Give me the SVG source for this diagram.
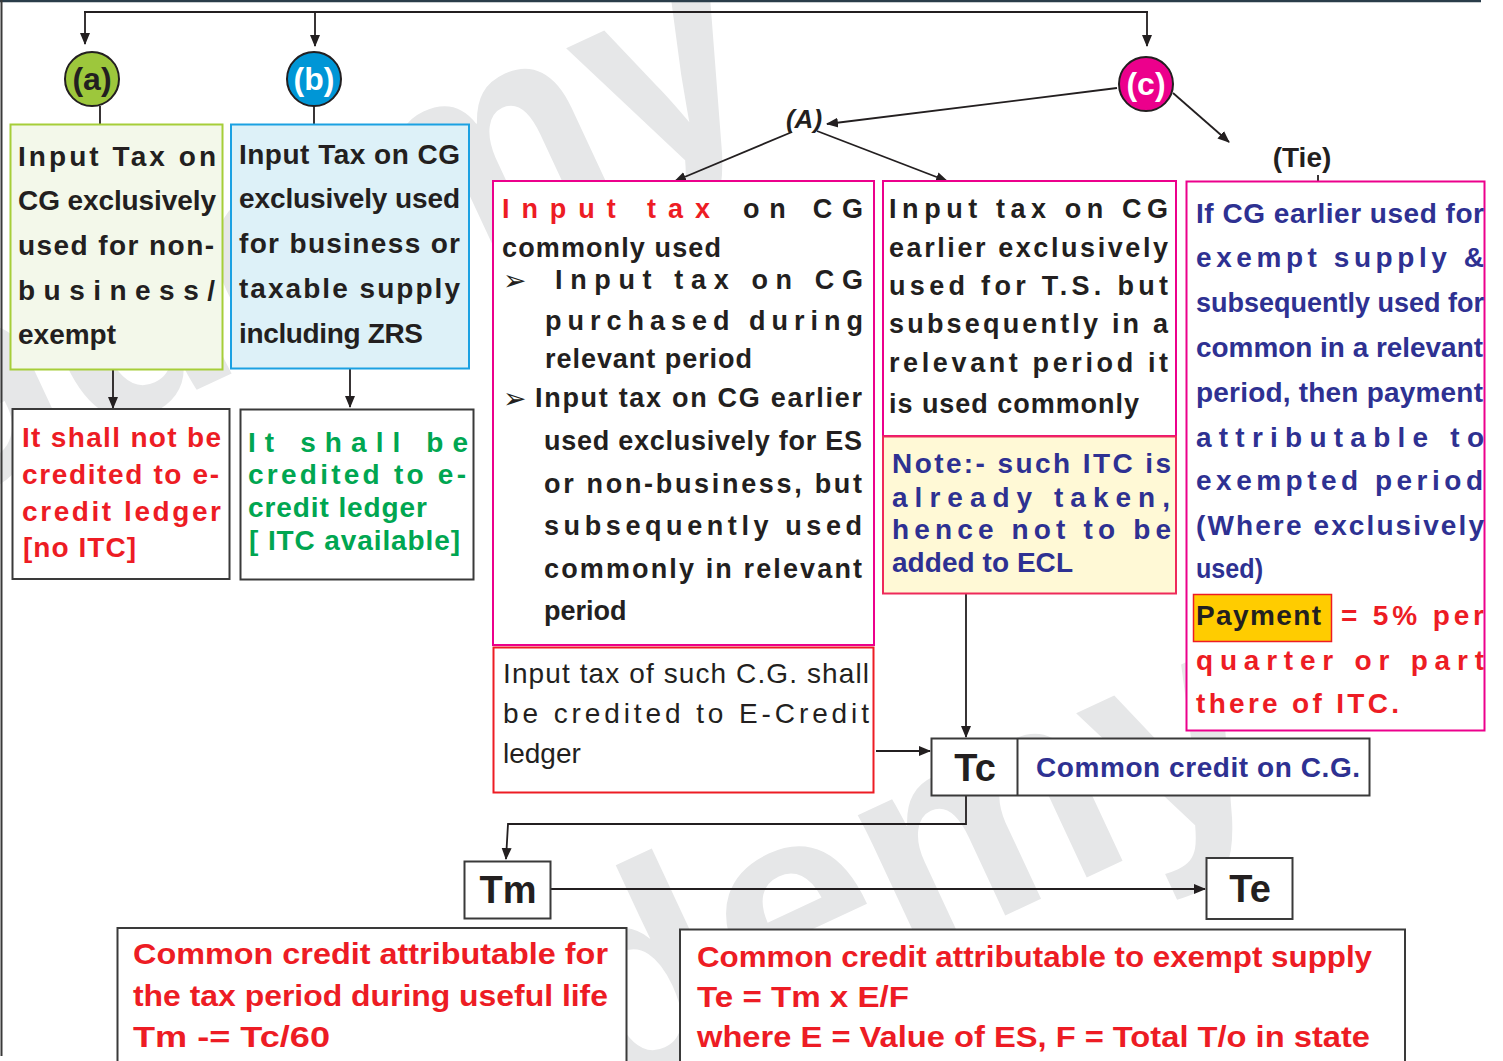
<svg xmlns="http://www.w3.org/2000/svg" width="1503" height="1061" viewBox="0 0 1503 1061">
<defs>
<marker id="ah" markerWidth="12" markerHeight="12" refX="11" refY="6" orient="auto" markerUnits="userSpaceOnUse"><path d="M0,1 L12,6 L0,11 z" fill="#231f20"/></marker>
<style>
.t{font-family:"Liberation Sans",Arial,sans-serif;font-weight:bold;font-size:28px}
.m{font-size:27px}
.rg{font-weight:normal}
.b{font-size:30px}
.big{font-size:38px}
.circ{font-size:32px}
.bul{font-family:"DejaVu Sans",sans-serif;font-size:28px;fill:#231f20}
.k{fill:#231f20}.r{fill:#ed1c24}.g{fill:#00a651}.n{fill:#2e3192}.w{fill:#ffffff}
.box{fill:#ffffff;stroke:#3a3a3a;stroke-width:2}
.pk{fill:#ffffff;stroke:#ec008c;stroke-width:2}
.rd{fill:#ffffff;stroke:#ed1c24;stroke-width:2}
.ln{fill:none;stroke:#231f20;stroke-width:1.8}
.arr{fill:none;stroke:#231f20;stroke-width:1.8;marker-end:url(#ah)}
.wm{font-family:"Liberation Sans",Arial,sans-serif;font-weight:bold;font-size:290px;fill:#e6e7e8}
</style>
</defs>
<rect width="1503" height="1061" fill="#ffffff"/>
<g id="watermark">
<text class="wm" x="775" y="120" text-anchor="end" transform="rotate(-25 775 120)">academy</text>
<text class="wm" x="1285" y="785" text-anchor="end" transform="rotate(-25 1285 785)">academy</text>
</g>
<g id="frame">
<line x1="0" y1="1" x2="1481" y2="1" stroke="#2a3d4a" stroke-width="2.5"/>
<line x1="1.5" y1="0" x2="1.5" y2="1056" stroke="#3a3a3a" stroke-width="2"/>
</g>
<g id="connectors">
<path class="ln" d="M84,12 H1148" stroke-width="2.5"/>
<path class="arr" d="M85,12 V44" stroke-width="2.5"/>
<path class="arr" d="M315,12 V46" stroke-width="2.5"/>
<path class="arr" d="M1147,12 V46" stroke-width="2.5"/>
<path class="ln" d="M100,106 V124"/>
<path class="ln" d="M314,106 V124"/>
<path class="arr" d="M113,369 V408"/>
<path class="arr" d="M350,368 V407"/>
<path class="arr" d="M1117,88 L827,124"/>
<path class="arr" d="M792,132 L675,181"/>
<path class="arr" d="M817,131 L947,181"/>
<path class="arr" d="M1173,93 L1229,142"/>
<path class="ln" d="M1318,175 V195"/>
<path class="arr" d="M876,751 H930"/>
<path class="arr" d="M966,594 V737"/>
<path class="arr" d="M966,796 V824 H508 L506,859"/>
<path class="arr" d="M550,889 H1205" stroke="#555555" stroke-width="2.5"/>
</g>
<g id="node-a">
<circle cx="92" cy="79" r="27" fill="#9dc73c" stroke="#231f20" stroke-width="2"/>
<text class="t circ k" x="92" y="90" text-anchor="middle">(a)</text>
</g>
<g id="node-b">
<circle cx="314" cy="79" r="27" fill="#0096d6" stroke="#231f20" stroke-width="2"/>
<text class="t circ w" x="314" y="90" text-anchor="middle">(b)</text>
</g>
<g id="node-c">
<circle cx="1146" cy="84" r="27" fill="#ec008c" stroke="#231f20" stroke-width="2"/>
<text class="t circ w" x="1146" y="95" text-anchor="middle">(c)</text>
</g>
<g id="label-A">
<text class="t k" x="804" y="128" style="font-size:26px;font-style:italic" text-anchor="middle">(A)</text>
</g>
<g id="label-Tie">
<text class="t k" x="1302" y="167" text-anchor="middle">(Tie)</text>
</g>
<g id="box-a">
<rect x="10.5" y="124.5" width="212" height="245" fill="#f3f8ea" stroke="#a6ce39" stroke-width="2"/>
<text class="t k" x="18" y="166" textLength="198">Input Tax on</text>
<text class="t k" x="18" y="210" textLength="198">CG exclusively</text>
<text class="t k" x="18" y="255" textLength="196">used for non-</text>
<text class="t k" x="18" y="300" textLength="197">business/</text>
<text class="t k" x="18" y="344">exempt</text>
</g>
<g id="box-b">
<rect x="231" y="124.5" width="238" height="244" fill="#ddf1f8" stroke="#1ba1e2" stroke-width="2"/>
<text class="t k" x="239" y="164" textLength="221">Input Tax on CG</text>
<text class="t k" x="239" y="208" textLength="221">exclusively used</text>
<text class="t k" x="239" y="253" textLength="221">for business or</text>
<text class="t k" x="239" y="298" textLength="221">taxable supply</text>
<text class="t k" x="239" y="343" textLength="184">including ZRS</text>
</g>
<g id="box-no-itc">
<rect class="box" x="12.5" y="409" width="217" height="170"/>
<text class="t r" x="22" y="447" textLength="199">It shall not be</text>
<text class="t r" x="22" y="484" textLength="197">credited to e-</text>
<text class="t r" x="22" y="521" textLength="199">credit ledger</text>
<text class="t r" x="23" y="557" textLength="113">[no ITC]</text>
</g>
<g id="box-itc">
<rect class="box" x="240.5" y="409.5" width="233" height="170"/>
<text class="t g" x="248" y="452" textLength="220">It shall be</text>
<text class="t g" x="248" y="484" textLength="218">credited to e-</text>
<text class="t g" x="248" y="517" textLength="179">credit ledger</text>
<text class="t g" x="249" y="550" textLength="211">[ ITC available]</text>
</g>
<g id="box-A1">
<rect class="pk" x="493" y="181" width="381" height="464"/>
<text class="t m r" x="502" y="218" textLength="208">Input tax</text>
<text class="t m k" x="743" y="218" textLength="120">on CG</text>
<text class="t m k" x="502" y="257" textLength="219">commonly used</text>
<text class="bul" x="503" y="290">➢</text>
<text class="t m k" x="555" y="289" textLength="308">Input tax on CG</text>
<text class="t m k" x="545" y="330" textLength="318">purchased during</text>
<text class="t m k" x="545" y="368" textLength="207">relevant period</text>
<text class="bul" x="503" y="408">➢</text>
<text class="t m k" x="535" y="407" textLength="327">Input tax on CG earlier</text>
<text class="t m k" x="544" y="450" textLength="318">used exclusively for ES</text>
<text class="t m k" x="544" y="493" textLength="318">or non-business, but</text>
<text class="t m k" x="544" y="535" textLength="318">subsequently used</text>
<text class="t m k" x="544" y="578" textLength="318">commonly in relevant</text>
<text class="t m k" x="544" y="620">period</text>
</g>
<g id="box-A1-credit">
<rect class="rd" x="493.5" y="647.5" width="380" height="145"/>
<text class="t rg k" x="503" y="683" textLength="366">Input tax of such C.G. shall</text>
<text class="t rg k" x="503" y="723" textLength="366">be credited to E-Credit</text>
<text class="t rg k" x="503" y="763">ledger</text>
</g>
<g id="box-A2">
<rect class="pk" x="883" y="181" width="293" height="255"/>
<text class="t m k" x="889" y="218" textLength="279">Input tax on CG</text>
<text class="t m k" x="889" y="257" textLength="279">earlier exclusively</text>
<text class="t m k" x="889" y="295" textLength="279">used for T.S. but</text>
<text class="t m k" x="889" y="333" textLength="279">subsequently in a</text>
<text class="t m k" x="889" y="372" textLength="279">relevant period it</text>
<text class="t m k" x="889" y="413" textLength="250">is used commonly</text>
</g>
<g id="box-note">
<rect x="883" y="436.5" width="293" height="157" fill="#fff9d6" stroke="#ee2a5a" stroke-width="2"/>
<text class="t n" x="892" y="473" textLength="279">Note:- such ITC is</text>
<text class="t n" x="892" y="507" textLength="278">already taken,</text>
<text class="t n" x="892" y="539" textLength="279">hence not to be</text>
<text class="t n" x="892" y="572" textLength="181">added to ECL</text>
</g>
<g id="box-tie">
<rect class="pk" x="1186.5" y="181.5" width="298" height="549"/>
<text class="t n" x="1196" y="223" textLength="288">If CG earlier used for</text>
<text class="t n" x="1196" y="267" textLength="288">exempt supply &amp;</text>
<text class="t n" x="1196" y="312" textLength="288" lengthAdjust="spacingAndGlyphs">subsequently used for</text>
<text class="t n" x="1196" y="357" textLength="287" lengthAdjust="spacingAndGlyphs">common in a relevant</text>
<text class="t n" x="1196" y="402" textLength="287">period, then payment</text>
<text class="t n" x="1196" y="447" textLength="288">attributable to</text>
<text class="t n" x="1196" y="490" textLength="287">exempted period</text>
<text class="t n" x="1196" y="535" textLength="288">(Where exclusively</text>
<text class="t n" x="1196" y="578" textLength="67" lengthAdjust="spacingAndGlyphs">used)</text>
<rect x="1193.5" y="594.5" width="138" height="47" fill="#ffcc00" stroke="#ed1c24" stroke-width="1.5"/>
<text class="t k" x="1196" y="625" textLength="125">Payment</text>
<text class="t r" x="1341" y="625" textLength="143">= 5% per</text>
<text class="t r" x="1196" y="670" textLength="288">quarter or part</text>
<text class="t r" x="1196" y="713" textLength="203">there of ITC.</text>
</g>
<g id="node-Tc">
<rect class="box" x="931.5" y="738.5" width="438" height="57"/>
<line x1="1017.5" y1="738.5" x2="1017.5" y2="795.5" stroke="#3a3a3a" stroke-width="2"/>
<text class="t big k" x="975" y="781" text-anchor="middle">Tc</text>
<text class="t n" x="1036" y="777" textLength="324">Common credit on C.G.</text>
</g>
<g id="node-Tm">
<rect class="box" x="464.5" y="861.5" width="86" height="57"/>
<text class="t big k" x="508" y="903" text-anchor="middle">Tm</text>
</g>
<g id="node-Te">
<rect class="box" x="1206.5" y="858" width="86" height="61"/>
<text class="t big k" x="1250" y="902" text-anchor="middle">Te</text>
</g>
<g id="box-Tm-desc">
<rect class="box" x="117.5" y="928" width="509" height="140"/>
<text class="t b r" x="133" y="964" textLength="475" lengthAdjust="spacingAndGlyphs">Common credit attributable for</text>
<text class="t b r" x="133" y="1006" textLength="475" lengthAdjust="spacingAndGlyphs">the tax period during useful life</text>
<text class="t b r" x="133" y="1047" textLength="197" lengthAdjust="spacingAndGlyphs">Tm -= Tc/60</text>
</g>
<g id="box-Te-desc">
<rect class="box" x="680" y="929.5" width="725" height="140"/>
<text class="t b r" x="697" y="967" textLength="675" lengthAdjust="spacingAndGlyphs">Common credit attributable to exempt supply</text>
<text class="t b r" x="697" y="1007" textLength="212" lengthAdjust="spacingAndGlyphs">Te = Tm x E/F</text>
<text class="t b r" x="697" y="1047" textLength="673" lengthAdjust="spacingAndGlyphs">where E = Value of ES, F = Total T/o in state</text>
</g>
</svg>
